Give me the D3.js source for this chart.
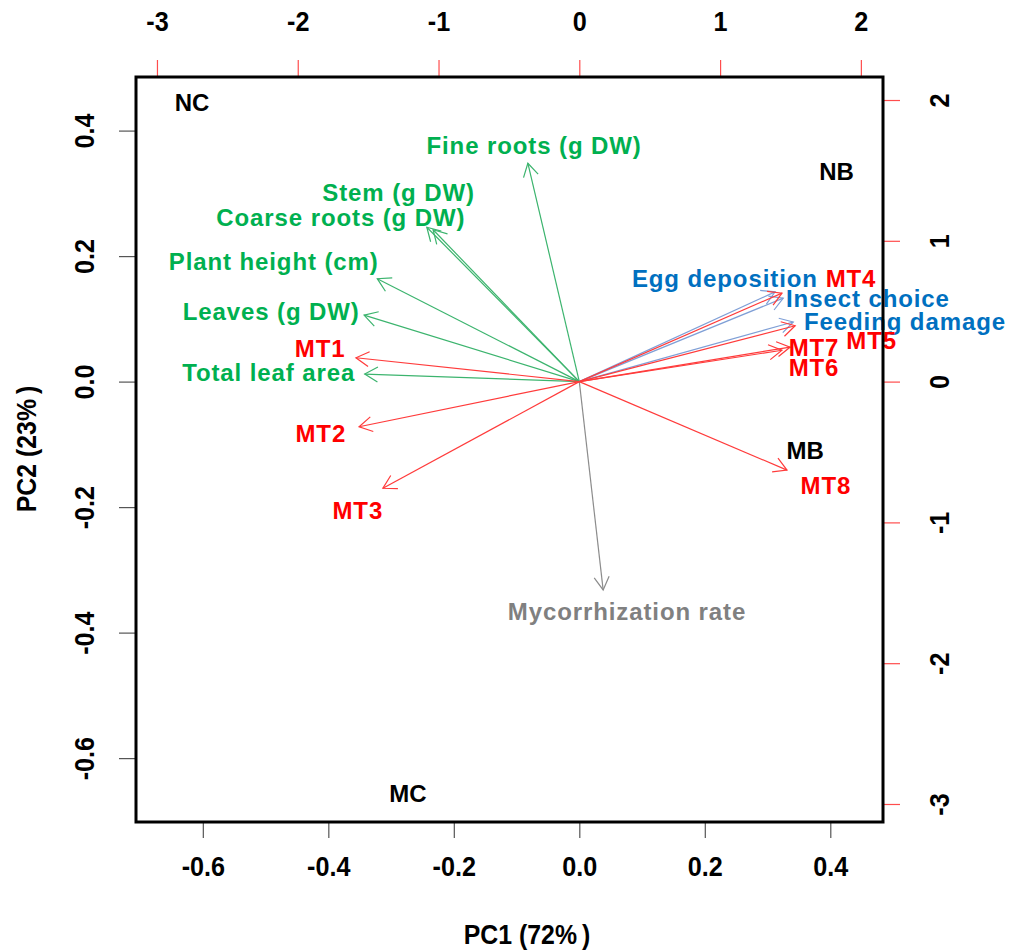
<!DOCTYPE html>
<html>
<head>
<meta charset="utf-8">
<script src="https://cdn.jsdelivr.net/npm/d3@7"></script>
<style>
  html, body { margin: 0; padding: 0; background: #fff; }
  svg { display: block; font-family: "Liberation Sans", Arial, sans-serif; }
</style>
</head>
<body>
<svg id="chart" width="1009" height="950"></svg>
<script>
// ---- Loadings (PC1, PC2) for each group of vectors ----
const plantVars   = ["Fine roots (g DW)", "Stem (g DW)", "Coarse roots (g DW)", "Plant height (cm)", "Leaves (g DW)", "Total leaf area"];
const plantPC1    = [-0.082, -0.243, -0.233, -0.322, -0.343, -0.342];
const plantPC2    = [ 0.348,  0.246,  0.242,  0.164,  0.106,  0.012];
const plantLabX   = [-0.072, -0.288, -0.380, -0.487, -0.491, -0.495];
const plantLabY   = [ 0.377,  0.302,  0.262,  0.191,  0.111,  0.014];

const mtVars      = ["MT1", "MT2", "MT3", "MT4", "MT5", "MT6", "MT7", "MT8"];
const mtPC1       = [-0.356, -0.351, -0.313, 0.323, 0.344, 0.323, 0.336, 0.331];
const mtPC2       = [ 0.038, -0.072, -0.170, 0.141, 0.089, 0.050, 0.055, -0.141];
const mtLabX      = [-0.413, -0.412, -0.353, 0.433, 0.466, 0.374, 0.374, 0.393];
const mtLabY      = [ 0.052, -0.082, -0.205, 0.164, 0.065, 0.022, 0.055, -0.165];

const insectVars  = ["Egg deposition", "Insect choice", "Feeding damage"];
const insectPC1   = [0.312, 0.325, 0.341];
const insectPC2   = [0.143, 0.133, 0.095];
const insectLabX  = [0.232, 0.460, 0.519];
const insectLabY  = [0.164, 0.132, 0.095];

const mycoVars    = ["Mycorrhization rate"];
const mycoPC1     = [0.038];
const mycoPC2     = [-0.332];
const mycoLabX    = [0.076];
const mycoLabY    = [-0.366];

// ---- Treatment scores (secondary axes) ----
const groups      = ["NC", "NB", "MB", "MC"];
const groupPC1    = [-2.751, 1.827, 1.604, -1.217];
const groupPC2    = [ 1.979, 1.489, -0.487, -2.929];

// ---- Axis ticks ----
const loadTicks   = [-0.6, -0.4, -0.2, 0.0, 0.2, 0.4];
const scoreTicks  = [-3, -2, -1, 0, 1, 2];
const xTitle      = "PC1 (72%\u2009)";
const yTitle      = "PC2 (23%\u2009)";

// ---- Layout ----
const frame = { left: 136, top: 77, right: 883, bottom: 822 };
const xDom = [-0.7065, 0.484];
const yDom = [-0.7018, 0.4854];
const scoreRatio = 4.457;

const x = d3.scaleLinear().domain(xDom).range([frame.left, frame.right]);
const y = d3.scaleLinear().domain(yDom).range([frame.bottom, frame.top]);
const x2 = d3.scaleLinear().domain(xDom.map(v => v * scoreRatio)).range([frame.left, frame.right]);
const y2 = d3.scaleLinear().domain(yDom.map(v => v * scoreRatio)).range([frame.bottom, frame.top]);

const svg = d3.select("#chart");

// Tick formats with a plain hyphen for negatives
const fmtLoad = v => (v < 0 ? "-" : "") + Math.abs(v).toFixed(1);
const fmtScore = v => (v < 0 ? "-" : "") + Math.abs(v).toFixed(0);

function styleAxis(g, tickColor) {
  g.select(".domain").remove();
  g.selectAll(".tick line").attr("stroke", tickColor).attr("stroke-width", 1.2);
  g.selectAll(".tick text")
    .attr("fill", "#000")
    .style("font-size", "28px")
    .style("font-weight", "bold")
    .style("font-family", "'Liberation Sans', Arial, sans-serif");
}

const gBottom = svg.append("g")
  .attr("transform", `translate(0,${frame.bottom})`)
  .call(d3.axisBottom(x).tickValues(loadTicks).tickFormat(fmtLoad).tickSize(16).tickPadding(0));
styleAxis(gBottom, "#555");
gBottom.selectAll(".tick text")
  .attr("y", null).attr("dy", null).attr("dominant-baseline", "central")
  .attr("transform", "translate(0,45) scale(0.9,1)");

const gTop = svg.append("g")
  .attr("transform", `translate(0,${frame.top})`)
  .call(d3.axisTop(x2).tickValues(scoreTicks).tickFormat(fmtScore).tickSize(17).tickPadding(0));
styleAxis(gTop, "#ff4d4d");
gTop.selectAll(".tick text")
  .attr("y", null).attr("dy", null).attr("dominant-baseline", "central")
  .attr("transform", "translate(0,-55) scale(0.9,1)");

const gLeft = svg.append("g")
  .attr("transform", `translate(${frame.left},0)`)
  .call(d3.axisLeft(y).tickValues(loadTicks).tickFormat(fmtLoad).tickSize(17).tickPadding(0));
styleAxis(gLeft, "#555");
gLeft.selectAll(".tick text")
  .attr("x", null).attr("dy", null)
  .attr("text-anchor", "middle").attr("dominant-baseline", "central")
  .attr("transform", "translate(-51,0) rotate(-90) scale(0.9,1)");

const gRight = svg.append("g")
  .attr("transform", `translate(${frame.right},0)`)
  .call(d3.axisRight(y2).tickValues(scoreTicks).tickFormat(fmtScore).tickSize(17).tickPadding(0));
styleAxis(gRight, "#ff4d4d");
gRight.selectAll(".tick text")
  .attr("x", null).attr("dy", null)
  .attr("text-anchor", "middle").attr("dominant-baseline", "central")
  .attr("transform", "translate(57,0) rotate(-90) scale(0.9,1)");

// Axis titles
svg.append("text")
  .attr("transform", "translate(527,935) scale(0.92,1)")
  .attr("text-anchor", "middle").attr("dominant-baseline", "central")
  .style("font-size", "27px").style("font-weight", "bold").text(xTitle);
svg.append("text")
  .attr("transform", "translate(27,449) rotate(-90) scale(0.92,1)")
  .attr("text-anchor", "middle").attr("dominant-baseline", "central")
  .style("font-size", "27px").style("font-weight", "bold").text(yTitle);

// Vector arrows
const arrowLayer = svg.append("g").attr("fill", "none");
const labelLayer = svg.append("g")
  .style("font-weight", "bold")
  .style("font-size", "24px")
  .style("letter-spacing", "0.9px");

function drawVectors(names, pc1, pc2, labX, labY, lineColor, textColor) {
  names.forEach((name, i) => {
    const x0 = x(0), y0 = y(0);
    const x1 = x(pc1[i]), y1 = y(pc2[i]);
    const ang = Math.atan2(y1 - y0, x1 - x0);
    const len = 15, spread = Math.PI / 6;
    const head = [
      [x1 - len * Math.cos(ang - spread), y1 - len * Math.sin(ang - spread)],
      [x1, y1],
      [x1 - len * Math.cos(ang + spread), y1 - len * Math.sin(ang + spread)]
    ];
    arrowLayer.append("line")
      .attr("x1", x0).attr("y1", y0).attr("x2", x1).attr("y2", y1)
      .attr("stroke", lineColor).attr("stroke-width", 1.2);
    arrowLayer.append("path")
      .attr("d", d3.line()(head))
      .attr("stroke", lineColor).attr("stroke-width", 1.2);
    labelLayer.append("text")
      .attr("x", x(labX[i])).attr("y", y(labY[i]))
      .attr("text-anchor", "middle").attr("dominant-baseline", "central")
      .attr("fill", textColor)
      .text(name);
  });
}

drawVectors(plantVars, plantPC1, plantPC2, plantLabX, plantLabY, "#3cb46e", "#00b050");
drawVectors(mycoVars, mycoPC1, mycoPC2, mycoLabX, mycoLabY, "#8c8c8c", "#808080");
drawVectors(insectVars, insectPC1, insectPC2, insectLabX, insectLabY, "#7f9fd6", "#0070c0");
drawVectors(mtVars, mtPC1, mtPC2, mtLabX, mtLabY, "#ff3b3b", "#ff0000");

// Treatment labels on the score scale
svg.append("g")
  .style("font-size", "24px")
  .style("font-weight", "bold")
  .selectAll("text")
  .data(groups)
  .join("text")
  .attr("x", (d, i) => x2(groupPC1[i]))
  .attr("y", (d, i) => y2(groupPC2[i]))
  .attr("text-anchor", "middle").attr("dominant-baseline", "central")
  .attr("fill", "#000")
  .text(d => d);

// Plot frame
svg.append("rect")
  .attr("x", frame.left).attr("y", frame.top)
  .attr("width", frame.right - frame.left).attr("height", frame.bottom - frame.top)
  .attr("fill", "none").attr("stroke", "#000").attr("stroke-width", 3);
</script>
</body>
</html>
